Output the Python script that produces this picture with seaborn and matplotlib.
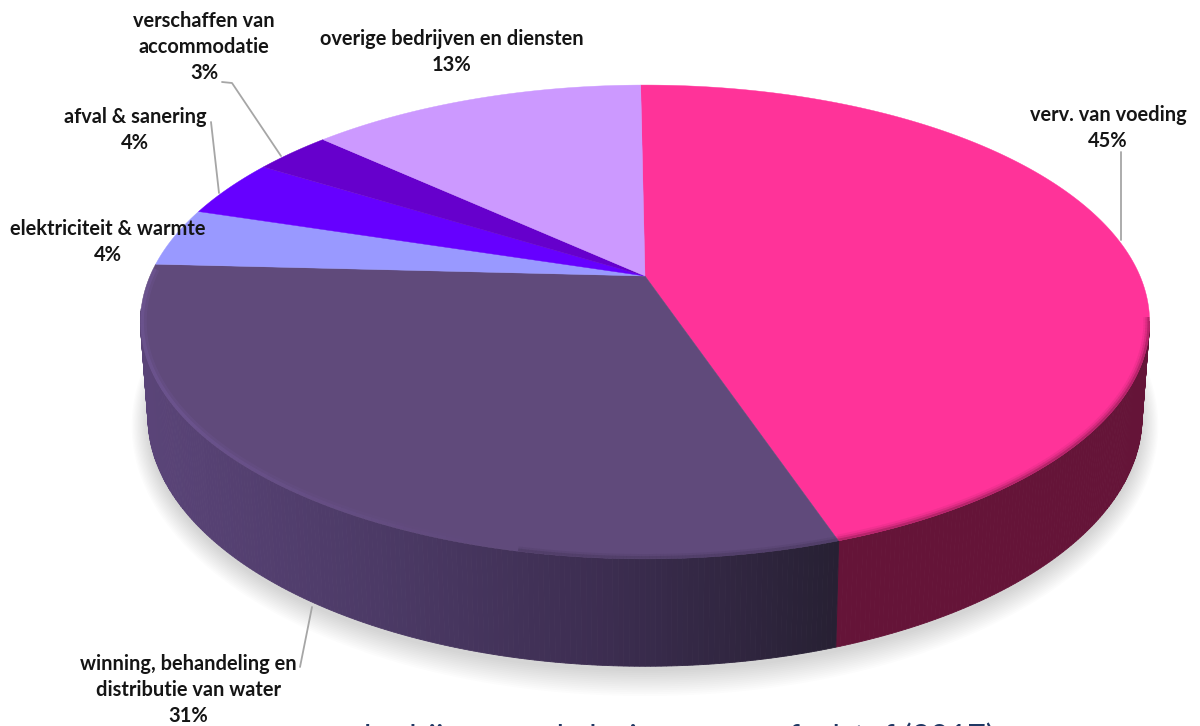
import numpy as np
import matplotlib
matplotlib.use("Agg")
import matplotlib.pyplot as plt
from matplotlib.patches import Polygon
import seaborn as sns

# Share per sector, clockwise from twelve o'clock
sectors = ["verv. van voeding", "winning, behandeling en\ndistributie van water",
           "elektriciteit & warmte", "afval & sanering",
           "verschaffen van\naccommodatie", "overige bedrijven en diensten"]
shares = [45, 31, 4, 4, 3, 13]
top_colors = ["#FF3399", "#604A7B", "#9999FF", "#6600FF", "#6600CC", "#CC99FF"]
caption = "bedrijven en de lozingen van afvalstof (2017)"

sns.set_theme(style="white")
plt.rcParams["font.family"] = ["Lato", "DejaVu Sans"]

fig = plt.figure(figsize=(12, 7.26), dpi=100)
ax = fig.add_axes([0, 0, 1, 1])
ax.set_xlim(0, 1200)
ax.set_ylim(726, 0)
ax.axis("off")

PERSPECTIVE = 0.194
START_ANGLE = -0.6


def disc_point(theta, cx, cy, half_w, half_h):
    """Project a rim angle (degrees clockwise from the back) with perspective foreshortening."""
    t = np.radians(theta)
    u, v = np.sin(t), np.cos(t)
    w = 1 + PERSPECTIVE * v
    return cx + half_w * u / w, cy - half_h * v / w


TOP = (645, 276, 495, 228)
BOTTOM = (645, 368.5, 487.6, 240)

edges = START_ANGLE + 360 * np.cumsum([0] + shares) / sum(shares)

# Soft shadow under the base of the disc
t_all = np.linspace(0, 360, 361)
for grow in np.linspace(20, 0, 14):
    bx, by = disc_point(t_all, BOTTOM[0], BOTTOM[1] + 5, BOTTOM[2] + grow * 0.8, BOTTOM[3] + grow)
    ax.fill(bx, by, color="#000000", alpha=0.011, lw=0, zorder=1)

# Side wall: plain maroon under the large slice, darkening purple under the second
n_steps = 320
wall_purple = sns.blend_palette(["#5A4478", "#4C3A66", "#3C2D50", "#272033"], n_colors=n_steps)
theta_wall = np.linspace(101, 262, n_steps + 1)
for i in range(n_steps):
    a, b = theta_wall[i], theta_wall[i + 1]
    mid = 0.5 * (a + b)
    if mid < edges[1]:
        col = "#651438"
    else:
        x_mid = disc_point(mid, *BOTTOM)[0]
        frac = np.clip((x_mid - 150) / (838 - 150), 0, 0.999)
        col = wall_purple[int(frac * n_steps)]
    seg = np.linspace(a, b, 3)
    xt, yt = disc_point(seg, *TOP)
    xb, yb = disc_point(seg, *BOTTOM)
    ax.fill(np.r_[xt, xb[::-1]], np.r_[yt, yb[::-1]], color=col, lw=0.6, ec=col, zorder=2)

# Top face of every slice
for start, end, col in zip(edges[:-1], edges[1:], top_colors):
    seg = np.linspace(start, end, max(int(end - start) * 2, 8))
    xs, ys = disc_point(seg, *TOP)
    ax.fill(np.r_[TOP[0], xs], np.r_[TOP[1], ys], color=col, lw=0.3, ec=col, zorder=3)

# Rounded front edge of the top face, kept inside the face outline
rim_x, rim_y = disc_point(t_all, *TOP)
face_clip = Polygon(np.c_[rim_x, rim_y], closed=True, transform=ax.transData)


def rim_stroke(theta_from, theta_to, col, strokes, fade_from=None):
    """Stroke part of the rim; with fade_from the strength ramps up from that angle."""
    steps = np.linspace(theta_from, theta_to, 90)
    for t0, t1 in zip(steps[:-1], steps[1:]):
        weight = 1.0
        if fade_from is not None:
            weight = np.clip((0.5 * (t0 + t1) - fade_from) / 45, 0, 1)
        xs, ys = disc_point(np.array([t0, t1]), *TOP)
        for lw, alpha in strokes:
            line, = ax.plot(xs, ys, color=col, lw=lw, alpha=alpha * weight, zorder=4,
                            solid_capstyle="butt")
            line.set_clip_path(face_clip)


rim_stroke(100, edges[1], "#651438", [(9, 0.08), (6, 0.16), (3, 0.3)])
rim_stroke(edges[1], 192, "#332844", [(7, 0.1), (4, 0.22)])
rim_stroke(192, edges[2] - 1, "#7A5FA6", [(9, 0.18), (5, 0.3)], fade_from=192)

# Leader lines
leaders = [([1121, 1121], [152, 240]),
           ([300, 312], [667, 607]),
           ([211, 219], [122, 193]),
           ([222, 232, 281], [82, 83, 156])]
for lx, ly in leaders:
    ax.plot(lx, ly, color="#A6A6A6", lw=1.3, zorder=5)

# Sector labels with their shares
label_xy = [(1108, 128), (188, 690), (108, 242), (135, 130), (204, 47), (452, 52)]
for name, share, (tx, ty) in zip(sectors, shares, label_xy):
    ax.text(tx, ty, f"{name}\n{share}%", ha="center", va="center", fontsize=14.4,
            fontweight="bold", color="#151515", linespacing=1.4, zorder=6)

# Caption along the lower edge, running off the canvas
ax.text(679, 722, caption, ha="center", va="top", fontsize=23, color="#1F3864",
        clip_on=True, zorder=6)

fig.savefig("out.png", dpi=100, facecolor="white")
